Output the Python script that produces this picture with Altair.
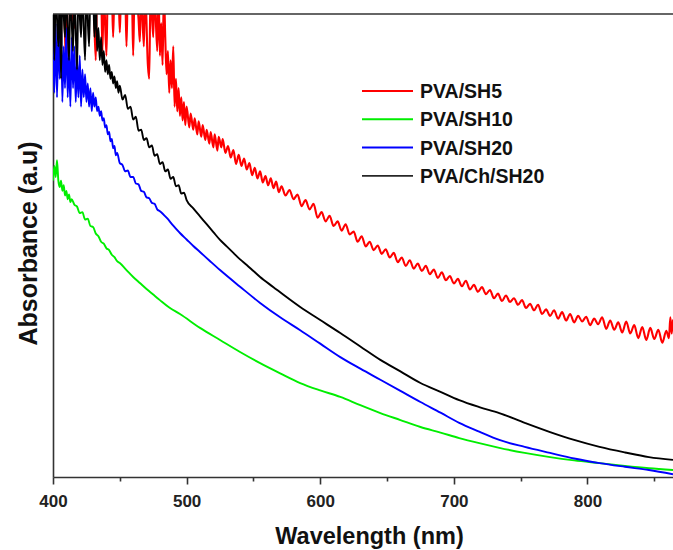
import altair as alt
import pandas as pd

# ---- data (absorbance in arbitrary units, 0..1 = plot height) ----
series_names = ["PVA/SH5", "PVA/SH10", "PVA/SH20", "PVA/Ch/SH20"]
series_colors = ["#ff0000", "#00ee00", "#0000ff", "#000000"]

red_wl = [400, 405, 408, 409, 410, 411, 413, 416, 417, 430, 432, 433, 436, 437, 438, 440, 441, 444, 445, 446,
          449, 450, 451, 454, 455, 456, 459, 460, 461, 464, 465, 466, 468, 469, 471, 472, 473, 475, 476, 478,
          479, 480, 481, 482, 483, 484, 485, 486, 487, 488, 489, 490, 491, 492, 493, 494, 495, 496, 497, 498,
          499, 500, 502, 503, 505, 506, 508, 509, 511, 512, 514, 515, 517, 518, 520, 521, 523, 524, 526, 527,
          529, 531, 533, 535, 537, 539, 541, 543, 545, 547, 549, 551, 553, 555, 557, 559, 561, 563, 565, 567,
          569, 571, 574, 577, 580, 583, 586, 589, 592, 595, 598, 601, 604, 607, 610, 613, 616, 619, 622, 625,
          628, 631, 634, 637, 640, 643, 646, 649, 652, 655, 658, 661, 664, 667, 670, 673, 676, 679, 682, 685,
          688, 691, 694, 697, 700, 703, 706, 709, 712, 715, 718, 721, 724, 727, 730, 733, 736, 739, 742, 745,
          748, 751, 754, 757, 760, 763, 766, 769, 772, 775, 778, 781, 784, 787, 790, 793, 796, 799, 802, 805,
          808, 811, 814, 817, 820, 823, 826, 829, 832, 835, 838, 841, 844, 847, 850, 853, 856, 859, 861, 862,
          863, 864]
red_abs = [1.05, 1.05, 1.05, 0.95, 0.89, 1.05, 1.05, 0.97, 1.05, 1.05, 0.90, 1.05, 1.05, 0.92, 1.05, 0.91, 1.05, 1.05, 0.95, 1.05,
           1.05, 0.96, 1.05, 1.05, 0.93, 1.05, 1.05, 0.91, 1.05, 0.99, 0.94, 1.05, 0.93, 1.05, 0.89, 0.86, 1.05, 0.95, 1.05, 0.92,
           1.05, 0.91, 0.98, 0.89, 1.05, 0.95, 0.87, 0.92, 0.83, 0.90, 0.84, 0.93, 0.80, 0.86, 0.79, 0.84, 0.78, 0.82, 0.77, 0.81,
           0.76, 0.80, 0.755, 0.785, 0.750, 0.775, 0.740, 0.768, 0.735, 0.760, 0.728, 0.750, 0.720, 0.745, 0.712, 0.740, 0.705, 0.735, 0.712, 0.730,
           0.700, 0.715, 0.690, 0.706, 0.676, 0.696, 0.672, 0.688, 0.664, 0.678, 0.652, 0.668, 0.645, 0.660, 0.636, 0.650, 0.630, 0.645, 0.624, 0.638,
           0.615, 0.628, 0.608, 0.620, 0.600, 0.610, 0.585, 0.598, 0.578, 0.590, 0.560, 0.572, 0.552, 0.564, 0.542, 0.552, 0.532, 0.546, 0.524, 0.530,
           0.508, 0.520, 0.498, 0.508, 0.490, 0.500, 0.482, 0.492, 0.474, 0.484, 0.464, 0.474, 0.456, 0.468, 0.450, 0.461, 0.445, 0.456, 0.438, 0.448,
           0.430, 0.442, 0.425, 0.434, 0.418, 0.428, 0.412, 0.424, 0.405, 0.415, 0.400, 0.410, 0.395, 0.404, 0.386, 0.396, 0.380, 0.392, 0.378, 0.386,
           0.372, 0.382, 0.365, 0.374, 0.360, 0.372, 0.352, 0.362, 0.348, 0.360, 0.342, 0.356, 0.338, 0.352, 0.334, 0.348, 0.336, 0.346, 0.328, 0.342,
           0.330, 0.345, 0.320, 0.338, 0.318, 0.334, 0.312, 0.336, 0.310, 0.328, 0.300, 0.324, 0.296, 0.322, 0.298, 0.318, 0.290, 0.316, 0.300, 0.345,
           0.310, 0.340]

green_wl = [400, 401, 402, 403, 404, 405, 406, 407, 408, 409, 410, 411, 412, 413, 414, 416, 418, 420, 422, 424,
            426, 428, 430, 432, 434, 436, 438, 440, 442, 444, 446, 448, 450, 455, 460, 465, 470, 475, 480, 487,
            495, 510, 525, 540, 555, 570, 585, 600, 615, 630, 645, 660, 675, 690, 704, 719, 734, 753, 772, 790,
            809, 828, 846, 864]
green_abs = [0.640, 0.672, 0.648, 0.684, 0.640, 0.626, 0.640, 0.618, 0.630, 0.608, 0.618, 0.600, 0.610, 0.594, 0.600, 0.588, 0.584, 0.570, 0.572, 0.556,
             0.558, 0.542, 0.540, 0.526, 0.520, 0.508, 0.504, 0.494, 0.490, 0.480, 0.475, 0.466, 0.462, 0.447, 0.432, 0.419, 0.406, 0.394, 0.382, 0.366,
             0.352, 0.322, 0.296, 0.270, 0.246, 0.224, 0.203, 0.187, 0.173, 0.155, 0.138, 0.123, 0.108, 0.096, 0.084, 0.073, 0.063, 0.052, 0.043, 0.036,
             0.030, 0.024, 0.019, 0.015]

blue_wl = [400, 401, 402, 403, 404, 405, 406, 407, 408, 409, 410, 411, 412, 413, 414, 415, 416, 417, 418, 419,
           420, 421, 422, 423, 424, 425, 426, 427, 428, 429, 430, 431, 432, 433, 434, 435, 436, 437, 438, 439,
           440, 441, 442, 443, 444, 445, 446, 447, 448, 450, 452, 454, 456, 458, 460, 462, 464, 466, 468, 470,
           472, 474, 476, 478, 480, 485, 490, 495, 500, 505, 510, 518, 525, 540, 555, 570, 585, 600, 615, 630,
           645, 660, 675, 690, 704, 719, 734, 753, 772, 790, 809, 828, 846, 864]
blue_abs = [0.94, 0.83, 0.98, 0.82, 0.96, 0.86, 0.99, 0.81, 0.93, 0.84, 0.97, 0.82, 0.92, 0.80, 0.95, 0.84, 0.93, 0.81, 0.90, 0.82,
            0.91, 0.80, 0.88, 0.82, 0.87, 0.81, 0.85, 0.80, 0.84, 0.79, 0.83, 0.80, 0.82, 0.79, 0.80, 0.78, 0.79, 0.77, 0.775, 0.755,
            0.76, 0.74, 0.745, 0.725, 0.73, 0.71, 0.715, 0.695, 0.70, 0.678, 0.674, 0.660, 0.662, 0.648, 0.648, 0.634, 0.632, 0.618, 0.616, 0.604,
            0.602, 0.592, 0.590, 0.578, 0.574, 0.560, 0.543, 0.527, 0.513, 0.499, 0.486, 0.465, 0.447, 0.411, 0.376, 0.345, 0.317, 0.288, 0.259, 0.234,
            0.210, 0.186, 0.162, 0.139, 0.117, 0.098, 0.080, 0.065, 0.052, 0.040, 0.030, 0.022, 0.015, 0.006]

black_wl = [400, 401, 402, 404, 405, 406, 407, 409, 410, 412, 413, 415, 416, 418, 419, 421, 422, 424, 425, 427,
            428, 430, 431, 432, 433, 434, 435, 436, 437, 438, 439, 440, 441, 442, 443, 444, 445, 446, 447, 448,
            449, 450, 452, 454, 456, 458, 460, 462, 464, 466, 468, 470, 472, 474, 476, 478, 480, 482, 484, 486,
            488, 490, 492, 494, 496, 498, 500, 505, 510, 515, 520, 525, 530, 535, 540, 545, 550, 555, 565, 575,
            585, 600, 615, 630, 645, 660, 675, 690, 704, 719, 734, 753, 772, 790, 809, 828, 846, 864]
black_abs = [1.05, 0.90, 1.05, 0.93, 1.05, 0.86, 1.05, 0.95, 1.05, 0.90, 1.05, 0.92, 1.05, 0.88, 1.05, 0.95, 1.05, 0.90, 1.05, 0.93,
             1.05, 1.05, 0.95, 1.05, 0.92, 0.97, 0.90, 0.95, 0.89, 0.92, 0.875, 0.90, 0.87, 0.89, 0.86, 0.875, 0.85, 0.865, 0.84, 0.855,
             0.83, 0.845, 0.815, 0.825, 0.795, 0.800, 0.772, 0.778, 0.748, 0.750, 0.728, 0.732, 0.712, 0.716, 0.694, 0.697, 0.676, 0.680, 0.660, 0.664,
             0.644, 0.648, 0.628, 0.630, 0.612, 0.614, 0.598, 0.580, 0.563, 0.546, 0.529, 0.512, 0.498, 0.484, 0.470, 0.458, 0.445, 0.432, 0.410, 0.388,
             0.367, 0.339, 0.311, 0.282, 0.253, 0.228, 0.203, 0.184, 0.166, 0.151, 0.138, 0.117, 0.097, 0.080, 0.065, 0.053, 0.043, 0.037]

x_ticks = [400, 450, 500, 550, 600, 650, 700, 750, 800, 850]

# ---- build table ----
frames = []
for name, wl, ab in zip(series_names,
                        [red_wl, green_wl, blue_wl, black_wl],
                        [red_abs, green_abs, blue_abs, black_abs]):
    frames.append(pd.DataFrame({"wavelength": wl, "absorbance": ab, "sample": name}))
df = pd.concat(frames, ignore_index=True)

FONT = "Liberation Sans"
AXIS_COLOR = "#333333"
W, H = 620, 463

x_enc = alt.X(
    "wavelength:Q",
    scale=alt.Scale(domain=[400, 864], nice=False, zero=False),
    axis=alt.Axis(
        values=x_ticks,
        labelExpr="datum.value % 100 === 0 ? datum.label : ''",
        format="d",
        grid=False,
        domainColor=AXIS_COLOR, domainWidth=1.6,
        tickColor=AXIS_COLOR, tickWidth=1.6,
        tickSize={"condition": {"test": "datum.value % 100 === 0", "value": 7}, "value": 4},
        labelFont=FONT, labelFontWeight="bold", labelFontSize=17, labelColor="#222222",
        labelPadding=9, labelFlush=False, labelOverlap=False,
        title="Wavelength (nm)",
        titleFont=FONT, titleFontWeight="bold", titleFontSize=23.5, titleColor="#111111",
        titleX=316, titleY=66, titleBaseline="alphabetic", titleAnchor="middle",
    ),
)
y_enc = alt.Y(
    "absorbance:Q",
    scale=alt.Scale(domain=[0, 1], nice=False, zero=False),
    axis=alt.Axis(
        ticks=False, labels=False, grid=False,
        domainColor=AXIS_COLOR, domainWidth=1.6,
        title="Absorbance (a.u)",
        titleFont=FONT, titleFontWeight="bold", titleFontSize=25, titleColor="#111111",
        titleX=-25, titleY=229, titleAngle=270, titleAlign="center", titleBaseline="middle",
    ),
)

lines = []
for name, color in zip(series_names, series_colors):
    lines.append(
        alt.Chart(df[df["sample"] == name])
        .mark_line(clip=True, strokeWidth=2.1 if name == "PVA/SH5" else 1.9,
                   color=color, interpolate="monotone")
        .encode(x=x_enc, y=y_enc, order="wavelength:Q")
    )

top_border = alt.Chart(pd.DataFrame({"k": [0]})).mark_rule(color=AXIS_COLOR, strokeWidth=1.6).encode(
    x=alt.value(0), x2=alt.value(W), y=alt.value(0)
)

legend_layers = []
for i, (name, color) in enumerate(zip(series_names, series_colors)):
    ly = 77 + 28.3 * i
    one = pd.DataFrame({"sample": [name]})
    legend_layers.append(
        alt.Chart(one).mark_rule(color=color, strokeWidth=2 if color != "#000000" else 1.6,
                                 opacity=0.85 if color == "#000000" else 1)
        .encode(x=alt.value(309), x2=alt.value(360), y=alt.value(ly))
    )
    legend_layers.append(
        alt.Chart(one).mark_text(align="left", baseline="middle", font=FONT, fontWeight="bold",
                                 fontSize=19.5, color="#111111")
        .encode(x=alt.value(367), y=alt.value(ly + 1), text="sample:N")
    )

chart = alt.layer(*lines, top_border, *legend_layers).properties(
    width=W, height=H,
    autosize=alt.AutoSizeParams(type="none"),
    padding={"left": 53, "top": 14, "right": 0, "bottom": 73},
    background="white",
).configure_view(strokeOpacity=0)

chart.save("out.html", embed_options={"renderer": "svg", "actions": False})
